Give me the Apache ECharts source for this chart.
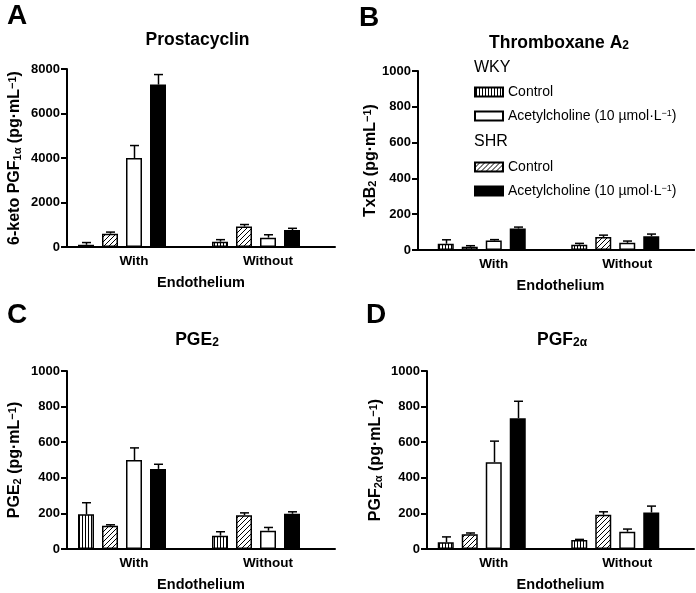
<!DOCTYPE html>
<html><head><meta charset="utf-8">
<script src="https://cdn.jsdelivr.net/npm/echarts@6/dist/echarts.min.js"></script>
<style>html,body{margin:0;padding:0;background:#fff}#c{width:696px;height:593px}</style>
</head><body><div id="c"></div>
<script>
// ---------- data ----------
const categories = ['With', 'Without'];
const seriesNames = ['WKY Control', 'SHR Control', 'WKY Acetylcholine', 'SHR Acetylcholine'];

// Panel A: Prostacyclin (6-keto PGF1a)
const wkyCtrlA = [100, 240],  wkyCtrlAErr = [100, 90];
const shrCtrlA = [600, 920],  shrCtrlAErr = [70, 90];
const wkyAchA  = [4000, 420], wkyAchAErr  = [560, 130];
const shrAchA  = [7300, 760], shrAchAErr  = [450, 80];

// Panel B: Thromboxane A2 (TxB2)
const wkyCtrlB = [35, 30],  wkyCtrlBErr = [22, 7];
const shrCtrlB = [18, 73],  shrCtrlBErr = [6, 10];
const wkyAchB  = [53, 40],  wkyAchBErr  = [5, 10];
const shrAchB  = [120, 77], shrAchBErr  = [8, 12];

// Panel C: PGE2
const wkyCtrlC = [195, 75],  wkyCtrlCErr = [65, 22];
const shrCtrlC = [130, 190], shrCtrlCErr = [6, 13];
const wkyAchC  = [500, 103], wkyAchCErr  = [68, 18];
const shrAchC  = [450, 198], shrAchCErr  = [26, 11];

// Panel D: PGF2a
const wkyCtrlD = [38, 50],   wkyCtrlDErr = [30, 4];
const shrCtrlD = [83, 193],  shrCtrlDErr = [7, 16];
const wkyAchD  = [488, 97],  wkyAchDErr  = [118, 15];
const shrAchD  = [735, 205], shrAchDErr  = [95, 36];

// axis ranges
const yMaxA = 8000, yStepA = 2000;
const yMaxOther = 1000, yStepOther = 200;

// ---------- style ----------
const FONT = '"Liberation Sans", Arial, sans-serif';
const BAR_W = 16, BAR_GAP_PX = 8;

function stripeV() {
  const c = document.createElement('canvas'); c.width = 3; c.height = 3;
  const g = c.getContext('2d');
  g.fillStyle = '#fff'; g.fillRect(0, 0, 3, 3);
  g.fillStyle = '#000'; g.fillRect(1, 0, 1, 3);
  return c;
}
function hatch() {
  const s = 5;
  const c = document.createElement('canvas'); c.width = s; c.height = s;
  const g = c.getContext('2d');
  g.fillStyle = '#fff'; g.fillRect(0, 0, s, s);
  g.strokeStyle = '#000'; g.lineWidth = 1;
  g.beginPath();
  g.moveTo(-1, s + 1); g.lineTo(s + 1, -1);
  g.moveTo(-1, 1); g.lineTo(1, -1);
  g.moveTo(s - 1, s + 1); g.lineTo(s + 1, s - 1);
  g.stroke();
  return c;
}
const fills = [
  { image: stripeV(), repeat: 'repeat' },
  { image: hatch(), repeat: 'repeat' },
  '#ffffff',
  '#000000'
];

const panels = [
  { vals: [wkyCtrlA, shrCtrlA, wkyAchA, shrAchA], errs: [wkyCtrlAErr, shrCtrlAErr, wkyAchAErr, shrAchAErr] },
  { vals: [wkyCtrlB, shrCtrlB, wkyAchB, shrAchB], errs: [wkyCtrlBErr, shrCtrlBErr, wkyAchBErr, shrAchBErr] },
  { vals: [wkyCtrlC, shrCtrlC, wkyAchC, shrAchC], errs: [wkyCtrlCErr, shrCtrlCErr, wkyAchCErr, shrAchCErr] },
  { vals: [wkyCtrlD, shrCtrlD, wkyAchD, shrAchD], errs: [wkyCtrlDErr, shrCtrlDErr, wkyAchDErr, shrAchDErr] }
];

const grids = [
  { left: 67, top: 69, width: 268, height: 178 },
  { left: 427, top: 71, width: 267, height: 179 },
  { left: 67, top: 371, width: 268, height: 178 },
  { left: 427, top: 371, width: 267, height: 178 },
  { left: 418, top: 71, width: 276, height: 179 }   // B: x-axis line extension to offset y-axis
];

const richT = {
  sub: { fontSize: 12, fontWeight: 'bold', fontFamily: FONT, color: '#000', verticalAlign: 'bottom', padding: [5, 0, 0, 0] },
  sup: { fontSize: 10, fontWeight: 'bold', fontFamily: FONT, color: '#000', verticalAlign: 'top' }
};
const richN = {
  sub: { fontSize: 11, fontWeight: 'bold', fontFamily: FONT, color: '#000', verticalAlign: 'bottom', padding: [4, 0, 0, 0] },
  sup: { fontSize: 11, fontWeight: 'bold', fontFamily: FONT, color: '#000', verticalAlign: 'top', padding: [0, 0, 4, 0] }
};

const yNames = [
  '6-keto PGF{sub|1α} (pg·mL{sup|−1})',
  'TxB{sub|2} (pg·mL{sup|−1})',
  'PGE{sub|2} (pg·mL{sup|−1})',
  'PGF{sub|2α} (pg·mL{sup|−1})'
];
const yNameGaps = [44, 35, 44, 43];
const yOffsets = [0, 9, 0, 0];

const axisLineStyle = { color: '#000', width: 2 };
const xAxes = [], yAxes = [], series = [];
for (let g = 0; g < 4; g++) {
  xAxes.push({
    type: 'category', gridIndex: g, data: categories,
    axisLine: { lineStyle: axisLineStyle },
    axisTick: { alignWithLabel: true, length: 6, lineStyle: axisLineStyle },
    axisLabel: { color: '#000', fontWeight: 'bold', fontSize: 13.5, fontFamily: FONT, margin: 7 },
    name: 'Endothelium', nameLocation: 'middle', nameGap: 28,
    nameTextStyle: { color: '#000', fontWeight: 'bold', fontSize: 14.5, fontFamily: FONT }
  });
  yAxes.push({
    type: 'value', gridIndex: g, min: 0,
    max: g === 0 ? yMaxA : yMaxOther, interval: g === 0 ? yStepA : yStepOther,
    offset: yOffsets[g],
    splitLine: { show: false },
    axisLine: { show: true, lineStyle: axisLineStyle },
    axisTick: { show: true, length: 6, lineStyle: axisLineStyle },
    axisLabel: { color: '#000', fontWeight: 'bold', fontSize: 13, fontFamily: FONT, margin: 7, formatter: v => String(v) },
    name: yNames[g], nameLocation: 'middle', nameGap: yNameGaps[g], nameRotate: 90,
    nameTextStyle: { color: '#000', fontWeight: 'bold', fontSize: 16, fontFamily: FONT, rich: richN }
  });
  const p = panels[g];
  for (let s = 0; s < 4; s++) {
    series.push({
      type: 'bar', name: seriesNames[s], xAxisIndex: g, yAxisIndex: g,
      data: p.vals[s], barWidth: BAR_W, barGap: '50%',
      itemStyle: { color: fills[s], borderColor: '#000', borderWidth: 1.5 },
      z: 2
    });
  }
  // empty fifth slot in each group
  series.push({ type: 'bar', name: '_spacer', xAxisIndex: g, yAxisIndex: g, data: [null, null], barWidth: BAR_W, barGap: '50%' });
  for (let s = 0; s < 4; s++) {
    const slot = s;
    series.push({
      type: 'custom', xAxisIndex: g, yAxisIndex: g, z: 3,
      data: p.vals[s].map((v, i) => [i, v, p.errs[s][i]]),
      encode: { x: 0, y: 1 },
      renderItem: function (params, api) {
        const off = (slot - 2) * (BAR_W + BAR_GAP_PX);
        const base = api.coord([api.value(0), api.value(1)]);
        const top = api.coord([api.value(0), api.value(1) + api.value(2)]);
        const x = Math.round(base[0] + off) + 0.5;
        const st = { stroke: '#000', lineWidth: 1.5 };
        return {
          type: 'group', children: [
            { type: 'line', shape: { x1: x, y1: base[1], x2: x, y2: top[1] }, style: st },
            { type: 'line', shape: { x1: x - 4.5, y1: top[1], x2: x + 4.5, y2: top[1] }, style: st }
          ]
        };
      }
    });
  }
}
xAxes.push({ type: 'value', gridIndex: 4, min: 0, max: 1, axisLine: { show: true, lineStyle: axisLineStyle }, axisTick: { show: false }, axisLabel: { show: false }, splitLine: { show: false } });
yAxes.push({ type: 'value', gridIndex: 4, show: false });

const bigLetter = { fontSize: 28, fontWeight: 'bold', color: '#000', fontFamily: FONT };
const titleStyle = { fontSize: 17.5, fontWeight: 'bold', color: '#000', fontFamily: FONT, rich: richT };
const legendHead = { fontSize: 16, fontWeight: 'normal', color: '#000', fontFamily: FONT };
const titles = [
  { text: 'A', left: 7, top: 2, padding: 0, textStyle: bigLetter },
  { text: 'B', left: 359, top: 4, padding: 0, textStyle: bigLetter },
  { text: 'C', left: 7, top: 301, padding: 0, textStyle: bigLetter },
  { text: 'D', left: 366, top: 301, padding: 0, textStyle: bigLetter },
  { text: 'Prostacyclin', left: 197.5, textAlign: 'center', top: 31, padding: 0, textStyle: titleStyle },
  { text: 'Thromboxane A{sub|2}', left: 559, textAlign: 'center', top: 34, padding: 0, textStyle: titleStyle },
  { text: 'PGE{sub|2}', left: 197, textAlign: 'center', top: 331, padding: 0, textStyle: titleStyle },
  { text: 'PGF{sub|2α}', left: 562, textAlign: 'center', top: 331, padding: 0, textStyle: titleStyle },
  { text: 'WKY', left: 474, top: 60, padding: 0, textStyle: legendHead },
  { text: 'SHR', left: 474, top: 134, padding: 0, textStyle: legendHead }
];

const legendText = {
  'WKY Control': 'Control', 'SHR Control': 'Control',
  'WKY Acetylcholine': 'Acetylcholine (10 µmol·L{sup|−1})',
  'SHR Acetylcholine': 'Acetylcholine (10 µmol·L{sup|−1})'
};
const legendBase = {
  orient: 'vertical', left: 474, itemWidth: 28, itemHeight: 9, itemGap: 10, padding: 0,
  icon: 'rect', selectedMode: false,
  textStyle: { fontSize: 14, color: '#000', fontFamily: FONT, rich: { sup: { fontSize: 9, color: '#000', fontFamily: FONT, verticalAlign: 'top' } } },
  formatter: n => legendText[n]
};

const chart = echarts.init(document.getElementById('c'), null, { renderer: 'canvas' });
chart.setOption({
  animation: false,
  backgroundColor: '#fff',
  title: titles,
  legend: [
    Object.assign({}, legendBase, { data: ['WKY Control', 'WKY Acetylcholine'], top: 85 }),
    Object.assign({}, legendBase, { data: ['SHR Control', 'SHR Acetylcholine'], top: 160 })
  ],
  grid: grids,
  xAxis: xAxes,
  yAxis: yAxes,
  series: series
});
</script>
</body></html>
